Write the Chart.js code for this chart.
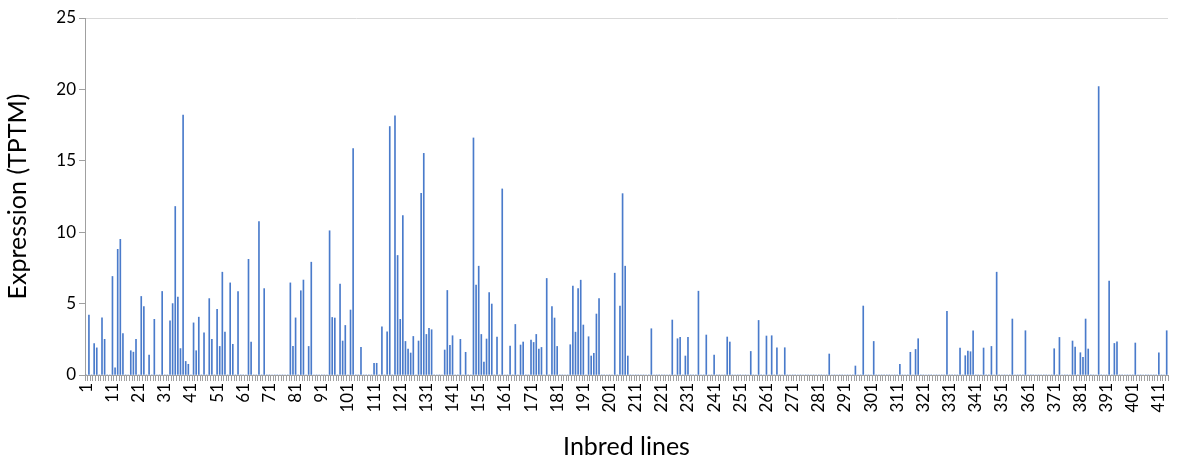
<!DOCTYPE html>
<html>
<head>
<meta charset="utf-8">
<script src="https://cdn.jsdelivr.net/npm/chart.js@4.4.1/dist/chart.umd.min.js"></script>
<style>
  html, body { margin: 0; padding: 0; background: #ffffff; }
  #wrap { width: 1178px; height: 462px; position: relative; }
</style>
</head>
<body>
<div id="wrap"><canvas id="c" width="1178" height="462"></canvas></div>
<script>
// Category identifiers: inbred lines 1..414
const categories = Array.from({ length: 414 }, (_, i) => String(i + 1));

// Expression (TPTM) per inbred line (rows of 10)
const expression = [
  0, 4.2, 0, 2.2, 1.9, 0, 4.0, 2.5, 0, 0,                 // 1-10
  6.9, 0.5, 8.8, 9.5, 2.9, 0, 0, 1.7, 1.6, 2.5,           // 11-20
  0, 5.5, 4.8, 0, 1.4, 0, 3.9, 0, 0, 5.85,                // 21-30
  0, 0, 3.8, 5.0, 11.8, 5.45, 1.85, 18.2, 0.95, 0.75,     // 31-40
  0, 3.65, 1.7, 4.05, 0, 2.95, 0, 5.35, 2.5, 0,           // 41-50
  4.6, 2.0, 7.2, 3.0, 0, 6.45, 2.15, 0, 5.85, 0,          // 51-60
  0, 0, 8.1, 2.3, 0, 0, 10.75, 0, 6.05, 0,                // 61-70
  0, 0, 0, 0, 0, 0, 0, 0, 6.45, 2.0,                      // 71-80
  4.0, 0, 5.9, 6.65, 0, 2.0, 7.9, 0, 0, 0,                // 81-90
  0, 0, 0, 10.1, 4.03, 3.99, 0, 6.36, 2.38, 3.47,         // 91-100
  0, 4.55, 15.85, 0, 0, 1.93, 0, 0, 0, 0,                 // 101-110
  0.82, 0.82, 0, 3.38, 0, 3.03, 17.4, 0, 18.15, 8.37,     // 111-120
  3.9, 11.17, 2.35, 1.82, 1.54, 2.7, 0, 2.38, 12.73, 15.52, // 121-130
  2.84, 3.26, 3.17, 0, 0, 0, 0, 1.75, 5.92, 2.07,         // 131-140
  2.75, 0, 0, 2.5, 0, 1.59, 0, 0, 16.6, 6.29,             // 141-150
  7.62, 2.84, 0.91, 2.52, 5.78, 4.97, 0, 2.66, 0, 13.03,  // 151-160
  0, 0, 2.03, 0, 3.54, 0, 2.1, 2.31, 0, 0,                // 161-170
  2.45, 2.28, 2.84, 1.82, 1.93, 0, 6.76, 0, 4.8, 3.99,    // 171-180
  2.0, 0, 0, 0, 0, 2.12, 6.22, 3.0, 6.06, 6.64,           // 181-190
  3.5, 0, 2.68, 1.33, 1.52, 4.27, 5.36, 0, 0, 0,          // 191-200
  0, 0, 7.13, 0, 4.83, 12.7, 7.62, 1.33, 0, 0,            // 201-210
  0, 0, 0, 0, 0, 0, 3.24, 0, 0, 0,                        // 211-220
  0, 0, 0, 0, 3.85, 0, 2.54, 2.63, 0, 1.33,               // 221-230
  2.63, 0, 0, 0, 5.87, 0, 0, 2.8, 0, 0,                   // 231-240
  1.4, 0, 0, 0, 0, 2.66, 2.31, 0, 0, 0,                   // 241-250
  0, 0, 0, 0, 1.65, 0, 0, 3.82, 0, 0,                     // 251-260
  2.73, 0, 2.75, 0, 1.91, 0, 0, 1.91, 0, 0,               // 261-270
  0, 0, 0, 0, 0, 0, 0, 0, 0, 0,                           // 271-280
  0, 0, 0, 0, 1.47, 0, 0, 0, 0, 0,                        // 281-290
  0, 0, 0, 0, 0.63, 0, 0, 4.83, 0, 0,                     // 291-300
  0, 2.35, 0, 0, 0, 0, 0, 0, 0, 0,                        // 301-310
  0, 0.75, 0, 0, 0, 1.59, 0, 1.79, 2.54, 0,               // 311-320
  0, 0, 0, 0, 0, 0, 0, 0, 0, 4.45,                        // 321-330
  0, 0, 0, 0, 1.89, 0, 1.35, 1.68, 1.63, 3.1,             // 331-340
  0, 0, 0, 1.89, 0, 0, 2.0, 0, 7.2, 0,                    // 341-350
  0, 0, 0, 0, 3.92, 0, 0, 0, 0, 3.1,                      // 351-360
  0, 0, 0, 0, 0, 0, 0, 0, 0, 0,                           // 361-370
  1.84, 0, 2.63, 0, 0, 0, 0, 2.38, 1.96, 0,               // 371-380
  1.56, 1.24, 3.92, 1.82, 0, 0, 0, 20.2, 0, 0,            // 381-390
  0, 6.57, 0, 2.21, 2.33, 0, 0, 0, 0, 0,                  // 391-400
  0, 2.24, 0, 0, 0, 0, 0, 0, 0, 0,                        // 401-410
  1.56, 0, 0, 3.1                                         // 411-414
];

// Tick labels shown on the category axis
const xTickLabels = ["1","11","21","31","41","51","61","71","81","91","101","111","121","131","141","151","161","171","181","191","201","211","221","231","241","251","261","271","281","291","301","311","321","331","341","351","361","371","381","391","401","411"];
const yTicks = [0, 5, 10, 15, 20, 25];

const FONT = "Lato, 'Noto Sans', sans-serif";
const AXIS_GREY = '#A0A0A0';

new Chart(document.getElementById('c'), {
  type: 'bar',
  data: {
    labels: categories,
    datasets: [{
      label: 'Expression (TPTM)',
      data: expression,
      backgroundColor: '#4A7BCB',
      borderWidth: 0,
      barThickness: 1
    }]
  },
  options: {
    responsive: false,
    animation: false,
    layout: { padding: { top: 18, right: 10, left: 0, bottom: 0 } },
    plugins: { legend: { display: false }, tooltip: { enabled: false } },
    scales: {
      x: {
        type: 'category',
        offset: true,
        border: { display: true, color: AXIS_GREY, width: 1 },
        grid: {
          display: true,
          offset: true,
          drawOnChartArea: false,
          drawTicks: true,
          tickLength: 6,
          color: AXIS_GREY,
          tickColor: AXIS_GREY
        },
        ticks: {
          autoSkip: false,
          maxRotation: 90,
          minRotation: 90,
          padding: 2,
          color: '#000000',
          font: { family: FONT, size: 17 },
          callback: function (value) {
            const lab = this.getLabelForValue(value);
            return xTickLabels.includes(lab) ? lab : '';
          }
        },
        title: {
          display: true,
          text: 'Inbred lines',
          color: '#000000',
          font: { family: FONT, size: 25 },
          padding: { top: 0, bottom: 0 }
        },
        afterFit: function (scale) {
          scale.height = 87;
          scale.paddingLeft = 0;
          scale.paddingRight = 0;
        }
      },
      y: {
        min: 0,
        max: 25,
        border: { display: true, color: AXIS_GREY, width: 1 },
        grid: {
          display: true,
          drawOnChartArea: true,
          drawTicks: true,
          tickLength: 6,
          color: (ctx) => (ctx.tick && ctx.tick.value === 25 ? '#D9D9D9' : 'rgba(0,0,0,0)'),
          tickColor: AXIS_GREY
        },
        afterBuildTicks: function (scale) {
          scale.ticks = yTicks.map(v => ({ value: v }));
        },
        ticks: {
          padding: 3,
          color: '#000000',
          font: { family: FONT, size: 17 }
        },
        title: {
          display: true,
          text: 'Expression (TPTM)',
          color: '#000000',
          font: { family: FONT, size: 25 },
          padding: { top: 3, bottom: 0 }
        },
        afterFit: function (scale) {
          scale.width = 85;
          scale.paddingTop = 0;
          scale.paddingBottom = 0;
        }
      }
    }
  }
});
</script>
</body>
</html>
